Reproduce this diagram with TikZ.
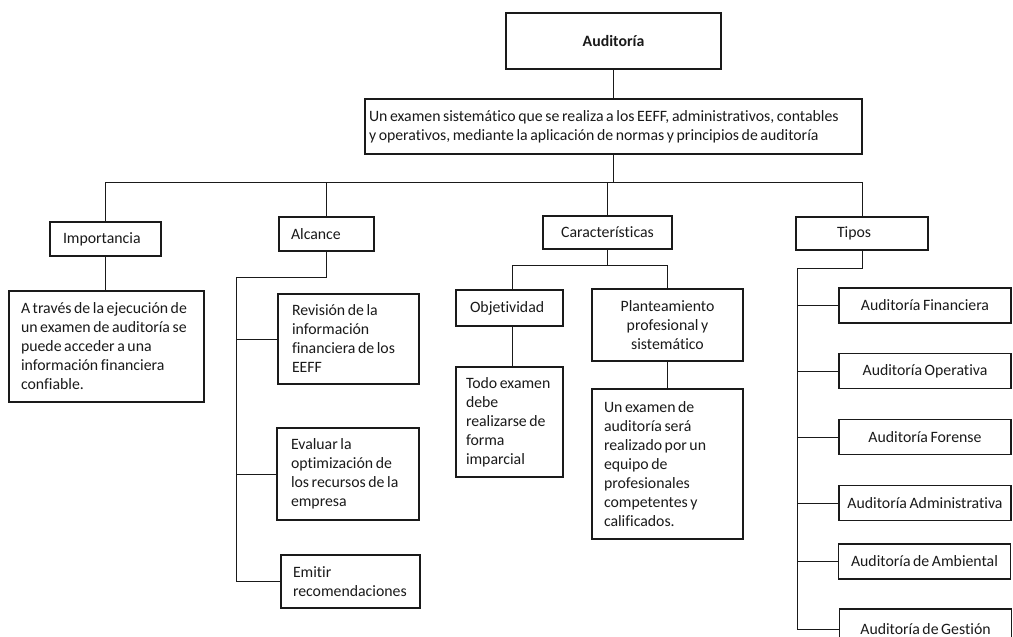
\documentclass[tikz,border=0pt]{standalone}
\usepackage{fontspec}
\setmainfont{Carlito}[Ligatures=NoCommon]
\usetikzlibrary{positioning,calc}
\definecolor{ink}{HTML}{1A1A1A}
\hyphenpenalty=10000
\exhyphenpenalty=10000
\newcommand\boxfont{\fontsize{15.8}{19}\selectfont
  \fontdimen2\font=2.6pt \fontdimen3\font=0.8pt \fontdimen4\font=0.6pt}

\begin{document}
\begin{tikzpicture}[
  x=1pt, y=-1pt,
  font=\boxfont,
  box/.style={draw=ink,line width=1.1pt,inner xsep=13pt,inner ysep=0pt,
              align=flush left,text=ink},
  cbox/.style={box,align=flush center,inner xsep=2pt},
  tbox/.style={cbox,minimum width=172pt,minimum height=35pt},
  link/.style={draw=ink,line width=1pt},
]
\useasboundingbox (0,0) rectangle (1013,637);
\fill[white] (0,0) rectangle (1013,637);
\clip (0,0) rectangle (1013,637);

% ---------------------------------------------------------------- top
\node[cbox,minimum width=215pt,minimum height=56pt] (aud) at (613.5,41)
  {\textbf{Auditoría}};
\node[box,inner xsep=4pt,text width=489pt,minimum height=55pt] (def) at (613.5,126.5)
  {Un examen sistemático que se realiza a los EEFF, administrativos, contables\\
   y operativos, mediante la aplicación de normas y principios de auditoría};

% ---------------------------------------------------------------- branches
\node[box,text width=85pt,minimum height=34pt]  (imp) at (105.5,239) {Importancia};
\node[box,inner xsep=12pt,text width=71pt,minimum height=34pt] (alc) at (326.5,234) {Alcance};
\node[cbox,minimum width=129pt,minimum height=33pt] (car) at (607.5,232.5) {Características};
\node[box,inner xsep=41pt,text width=50pt,minimum height=33pt] (tip) at (862,233.5) {Tipos};

% importancia
\node[box,inner xsep=12pt,text width=171pt,minimum height=111pt] (impd) at (106.5,346.5)
  {A través de la ejecución de\\ un examen de auditoría se\\ puede acceder a una\\
   información financiera\\ confiable.};

% alcance
\node[box,inner xsep=14pt,text width=113pt,minimum height=90pt] (a1) at (348.5,339)
  {Revisión de la\\ información\\ financiera de los\\ EEFF};
\node[box,inner xsep=14pt,text width=114pt,minimum height=92pt] (a2) at (348,474)
  {Evaluar la\\ optimización de\\ los recursos de la\\ empresa};
\node[box,inner xsep=12pt,text width=115pt,minimum height=53pt] (a3) at (350.5,581.5)
  {Emitir\\ recomendaciones};

% caracteristicas
\node[box,inner xsep=14pt,text width=79pt,minimum height=36pt] (obj) at (509.5,308) {Objetividad};
\node[cbox,minimum width=151pt,minimum height=72pt] (pla) at (667.5,325)
  {Planteamiento\\ profesional y\\ sistemático};
\node[box,inner xsep=10pt,text width=87pt,minimum height=110pt] (todo) at (509.5,422)
  {Todo examen\\ debe\\ realizarse de\\ forma\\ imparcial};
\node[box,inner xsep=12pt,text width=127pt,minimum height=150pt] (une) at (667.5,464)
  {Un examen de\\ auditoría será\\ realizado por un\\ equipo de\\ profesionales\\
   competentes y\\ calificados.};

% tipos
\node[tbox] (t1) at (925,305.5) {Auditoría Financiera};
\node[tbox] (t2) at (925,371)   {Auditoría Operativa};
\node[tbox] (t3) at (925,437)   {Auditoría Forense};
\node[tbox] (t4) at (925,503)   {Auditoría Administrativa};
\node[tbox] (t5) at (924.5,561.5) {Auditoría de Ambiental};
\node[tbox,minimum height=40pt] (t6) at (925.5,629) {Auditoría de Gestión};

% ---------------------------------------------------------------- links
\coordinate (bus)  at (0,182);
\coordinate (abus) at (236,277);
\coordinate (cbus) at (0,265);
\coordinate (tbus) at (797,268);

\draw[link] (aud) -- (def);
\draw[link] (def.south) -- (def.south |- bus);
\draw[link] (imp.north) |- (tip.north |- bus) -- (tip.north);
\foreach \n in {alc,car} \draw[link] (\n.north) -- (\n.north |- bus);

\draw[link] (imp.south) -- (imp.south |- impd.north);

\draw[link] (alc.south) |- (abus) -- (abus |- a3.west) -- (a3.west);
\foreach \n in {a1,a2} \draw[link] (abus |- \n.west) -- (\n.west);

\draw[link] (car.south) -- (car.south |- cbus);
\draw[link] ([xshift=3pt]obj.north) |- (pla.north |- cbus) -- (pla.north);
\draw[link] ([xshift=3pt]obj.south) -- ([xshift=3pt]obj.south |- todo.north);
\draw[link] (pla.south) -- (pla.south |- une.north);

\draw[link] (tip.south) |- (tbus) -- (tbus |- t6.west) -- (t6.west);
\foreach \n in {t1,t2,t3,t4,t5} \draw[link] (tbus |- \n.west) -- (\n.west);

\end{tikzpicture}
\end{document}
